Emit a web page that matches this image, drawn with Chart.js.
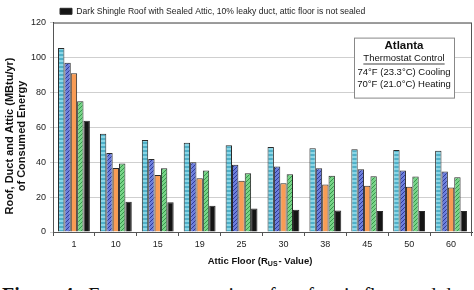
<!DOCTYPE html>
<html>
<head>
<meta charset="utf-8">
<script src="https://cdn.jsdelivr.net/npm/chart.js@4.4.0/dist/chart.umd.min.js"></script>
<style>
  body { margin: 0; background: #fff; }
  #wrap { position: relative; width: 474px; height: 290px; overflow: hidden; }
  #box { position: absolute; left: 0; top: 0; width: 474px; height: 272px; }
  #caption { position: absolute; left: 2px; top: 284px; white-space: nowrap;
             font: 20px "Liberation Serif", serif; color: #111; }
</style>
</head>
<body>
<div id="wrap">
  <div id="box"><canvas id="chartCanvas"></canvas></div>
  <div id="caption"><b>Figure 4.</b>&nbsp; Energy consumption of roof, attic floor and duct loads in Atlanta</div>
</div>
<script>
// veriler
const categories = ['1', '10', '15', '19', '25', '30', '38', '45', '50', '60'];
const lightRoofVented = [105.5, 56.3, 52.7, 51.2, 49.7, 48.7, 48.0, 47.4, 47.0, 46.6];
const darkRoofVented = [97.0, 45.3, 41.9, 40.0, 38.5, 37.5, 36.5, 36.0, 35.2, 34.6];
const lightRoofRadiant = [91.0, 36.7, 32.7, 30.8, 29.3, 28.0, 27.2, 26.5, 25.9, 25.5];
const darkRoofRadiant = [75.0, 39.3, 36.5, 35.2, 33.7, 33.1, 32.3, 32.0, 31.8, 31.4];
const darkRoofSealed = [63.7, 17.4, 17.0, 15.0, 13.5, 12.7, 12.3, 12.0, 12.0, 12.0];
const yTicks = [0, 20, 40, 60, 80, 100, 120];

const FONT = '"Liberation Sans", Arial, sans-serif';

// desen olustur
function makePattern(base, line, kind) {
    const c = document.createElement('canvas');
    c.width = 4; c.height = 4;
    const g = c.getContext('2d');
    g.fillStyle = base;
    g.fillRect(0, 0, 4, 4);
    g.fillStyle = line;
    if (kind === 'stripe') {
        g.fillRect(0, 2, 4, 2);
    } else if (kind === 'diag') {
        for (let i = 0; i < 4; i++) g.fillRect(i, 3 - i, 1, 1);
    }
    return g.createPattern(c, 'repeat');
}

const plotFrame = {
    id: 'plotFrame',
    afterLayout(chart) {
        chart.legend.left = 56;
        chart.legend.top += 3;
    },
    afterDatasetsDraw(chart) {
        const {ctx, chartArea: a} = chart;
        ctx.save();
        ctx.strokeStyle = '#555';
        ctx.lineWidth = 1;
        ctx.strokeRect(a.left + 0.5, a.top + 0.5, a.right - a.left - 1, a.bottom - a.top);

        // bilgi kutusu
        const bx = a.right - 118, by = a.top + 15, bw = 100, bh = 60;
        ctx.fillStyle = '#fff';
        ctx.fillRect(bx, by, bw, bh);
        ctx.strokeStyle = '#888';
        ctx.strokeRect(bx + 0.5, by + 0.5, bw, bh);
        const cx = bx + bw / 2;
        ctx.fillStyle = '#111';
        ctx.textAlign = 'center';
        ctx.textBaseline = 'middle';
        ctx.font = 'bold 11.5px ' + FONT;
        ctx.fillText('Atlanta', cx, by + 8);
        ctx.font = '9.5px ' + FONT;
        ctx.fillText('Thermostat Control', cx, by + 21);
        const tw = ctx.measureText('Thermostat Control').width;
        ctx.fillRect(cx - tw / 2, by + 26, tw, 0.8);
        ctx.fillText('74\u00B0F (23.3\u00B0C) Cooling', cx, by + 35);
        ctx.fillText('70\u00B0F (21.0\u00B0C) Heating', cx, by + 47);

        // eksen basliklari
        ctx.font = 'bold 11px ' + FONT;
        ctx.save();
        ctx.translate(10, 136);
        ctx.rotate(-Math.PI / 2);
        ctx.fillText('Roof, Duct and Attic (MBtu/yr)', 0, 0);
        ctx.restore();
        ctx.save();
        ctx.translate(22, 136);
        ctx.rotate(-Math.PI / 2);
        ctx.fillText('of Consumed Energy', 0, 0);
        ctx.restore();

        const p1 = 'Attic Floor (R', p2 = 'US', p3 = '- Value)';
        ctx.textAlign = 'left';
        ctx.font = 'bold 9.5px ' + FONT;
        const w1 = ctx.measureText(p1).width, w3 = ctx.measureText(p3).width;
        ctx.font = 'bold 7px ' + FONT;
        const w2 = ctx.measureText(p2).width;
        let x = 260 - (w1 + w2 + w3 + 1) / 2;
        const y = 261;
        ctx.font = 'bold 9.5px ' + FONT;
        ctx.fillText(p1, x, y);
        x += w1;
        ctx.font = 'bold 7px ' + FONT;
        ctx.fillText(p2, x, y + 3);
        x += w2 + 1;
        ctx.font = 'bold 9.5px ' + FONT;
        ctx.fillText(p3, x, y);
        ctx.restore();
    }
};

function createChart() {
    const ctx = document.getElementById('chartCanvas').getContext('2d');
    const common = { borderColor: '#2a2a2a', borderWidth: 1, categoryPercentage: 0.76, barPercentage: 1.0 };

    new Chart(ctx, {
        type: 'bar',
        data: {
            labels: categories,
            datasets: [
                Object.assign({ label: 'Light Shingle Roof, vented attic', data: lightRoofVented,
                    backgroundColor: makePattern('#8ad6e6', '#4fb0c8', 'stripe') }, common),
                Object.assign({ label: 'Dark Shingle Roof, vented attic', data: darkRoofVented,
                    backgroundColor: makePattern('#6d7fdc', '#2d3a9a', 'diag') }, common),
                Object.assign({ label: 'Light Shingle Roof with radiant barrier', data: lightRoofRadiant,
                    backgroundColor: '#f89c55' }, common),
                Object.assign({ label: 'Dark Shingle Roof with radiant barrier', data: darkRoofRadiant,
                    backgroundColor: makePattern('#78d488', '#35984a', 'diag') }, common),
                Object.assign({ label: 'Dark Shingle Roof with Sealed Attic, 10% leaky duct, attic floor is not sealed',
                    data: darkRoofSealed, backgroundColor: '#151515' }, common)
            ]
        },
        options: {
            responsive: true,
            maintainAspectRatio: false,
            animation: false,
            layout: { padding: { left: 0, right: 2, top: 0, bottom: 0 } },
            plugins: {
                legend: {
                    position: 'top',
                    align: 'start',
                    labels: {
                        filter: item => item.datasetIndex === 4,
                        boxWidth: 12,
                        boxHeight: 6,
                        padding: 4,
                        color: '#222',
                        font: { family: FONT, size: 8.6 }
                    }
                },
                tooltip: { enabled: false }
            },
            scales: {
                x: {
                    afterFit: s => { s.height = 40; },
                    grid: { display: true, drawOnChartArea: false, tickLength: 4, color: '#555', offset: true },
                    border: { color: '#333' },
                    ticks: { color: '#222', padding: 3, font: { family: FONT, size: 9 } }
                },
                y: {
                    min: 0,
                    max: 120,
                    afterFit: s => { s.width = 53; },
                    afterBuildTicks: s => { s.ticks = yTicks.map(v => ({ value: v })); },
                    grid: { color: '#cfcfcf', tickLength: 3 },
                    border: { color: '#333' },
                    ticks: { color: '#222', padding: 4, font: { family: FONT, size: 9 } }
                }
            }
        },
        plugins: [plotFrame]
    });
}

createChart();
</script>
</body>
</html>
